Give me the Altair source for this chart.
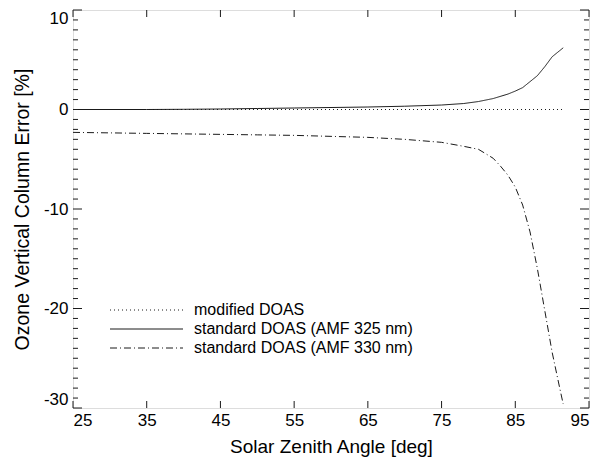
import altair as alt
import pandas as pd

# ---- data ----
series_names = ["modified DOAS", "standard DOAS (AMF 325 nm)", "standard DOAS (AMF 330 nm)"]

sza_mod = [25, 35, 45, 55, 65, 75, 85, 91.5]
err_mod = [0, 0, 0, 0, 0, 0, 0, 0]

sza_325 = [25, 30, 35, 40, 45, 50, 55, 60, 65, 70, 75, 78, 80, 82, 84, 85, 86, 87, 88, 89, 90, 91, 91.5]
err_325 = [0.0, 0.0, 0.0, 0.02, 0.05, 0.1, 0.15, 0.2, 0.25, 0.33, 0.45, 0.6, 0.8, 1.1, 1.55, 1.85, 2.2, 2.8, 3.4, 4.3, 5.3, 5.9, 6.2]

sza_330 = [25, 30, 35, 40, 45, 50, 55, 60, 65, 70, 75, 78, 80, 82, 83, 84, 85, 86, 87, 88, 89, 90, 91, 91.5]
err_330 = [-2.3, -2.35, -2.4, -2.45, -2.5, -2.55, -2.6, -2.7, -2.8, -3.0, -3.3, -3.7, -4.0, -4.9, -5.7, -6.6, -7.8, -9.6, -12.3, -16.0, -20.2, -24.4, -27.9, -29.6]

x_major = [25, 35, 45, 55, 65, 75, 85, 95]
y_major = [-30, -20, -10, 0, 10]
y_minor = [v for v in range(-30, 11) if v not in y_major]

W, H = 516, 398
FONT = "Liberation Sans"
INK = "#1a1a1a"

rows = []
for name, xs, ys in [(series_names[0], sza_mod, err_mod),
                     (series_names[1], sza_325, err_325),
                     (series_names[2], sza_330, err_330)]:
    for xv, yv in zip(xs, ys):
        rows.append({"series": name, "sza": xv, "err": yv})
df = pd.DataFrame(rows)

dash_range = [[1, 3], [1, 0], [7, 3, 1, 3]]

xscale = alt.Scale(domain=[25, 95], nice=False, zero=False)
yscale = alt.Scale(domain=[-30, 10], nice=False, zero=False)

lines = alt.Chart(df).mark_line(color=INK, strokeWidth=1).encode(
    x=alt.X("sza:Q", scale=xscale,
            axis=alt.Axis(title="Solar Zenith Angle [deg]", values=x_major,
                          labelExpr="'' + datum.value",
                          domain=False, ticks=False, grid=False, labelFontSize=17,
                          labelFont=FONT, labelColor="black", labelPadding=4,
                          titleFont=FONT, titleFontSize=19, titleFontWeight="normal",
                          titleColor="black", titlePadding=9)),
    y=alt.Y("err:Q", scale=yscale,
            axis=alt.Axis(title="Ozone Vertical Column Error [%]", values=y_major,
                          labelExpr="'' + datum.value", labelFlush=True,
                          domain=False, ticks=False, grid=False, labelFontSize=17,
                          labelFont=FONT, labelColor="black", labelPadding=5,
                          titleFont=FONT, titleFontSize=19.5, titleFontWeight="normal",
                          titleColor="black", titlePadding=11)),
    strokeDash=alt.StrokeDash("series:N", scale=alt.Scale(domain=series_names, range=dash_range),
                              legend=None),
    detail="series:N",
)

xt = pd.DataFrame({"v": x_major})
ytm = pd.DataFrame({"v": y_major})
ytn = pd.DataFrame({"v": y_minor})

tick_style = dict(color=INK, strokeWidth=1)
xb = alt.Chart(xt).mark_rule(**tick_style).encode(
    x=alt.X("v:Q", scale=xscale), y=alt.value(H), y2=alt.value(H - 7))
xtop = alt.Chart(xt).mark_rule(**tick_style).encode(
    x=alt.X("v:Q", scale=xscale), y=alt.value(0), y2=alt.value(7))
yl = alt.Chart(ytm).mark_rule(**tick_style).encode(
    y=alt.Y("v:Q", scale=yscale), x=alt.value(0), x2=alt.value(9))
yr = alt.Chart(ytm).mark_rule(**tick_style).encode(
    y=alt.Y("v:Q", scale=yscale), x=alt.value(W), x2=alt.value(W - 9))
ylm = alt.Chart(ytn).mark_rule(**tick_style).encode(
    y=alt.Y("v:Q", scale=yscale), x=alt.value(0), x2=alt.value(5))
yrm = alt.Chart(ytn).mark_rule(**tick_style).encode(
    y=alt.Y("v:Q", scale=yscale), x=alt.value(W), x2=alt.value(W - 5))

# ---- legend (inside plot, lower left) ----
leg_y = [300, 319, 338]
legend_layers = []
for i, name in enumerate(series_names):
    ldf = pd.DataFrame({"series": [name]})
    legend_layers.append(
        alt.Chart(ldf).mark_rule(color=INK, strokeWidth=1, strokeDash=dash_range[i]).encode(
            x=alt.value(37), x2=alt.value(110), y=alt.value(leg_y[i])))
    legend_layers.append(
        alt.Chart(ldf).mark_text(align="left", baseline="middle", font=FONT, fontSize=16,
                                 color="black").encode(
            x=alt.value(121), y=alt.value(leg_y[i]), text="series:N"))

chart = alt.layer(lines, xb, xtop, yl, yr, ylm, yrm, *legend_layers).properties(
    width=W, height=H,
    autosize=alt.AutoSizeParams(type="none"),
    padding={"left": 65, "top": 2, "right": 1, "bottom": 50},
).configure_view(stroke=INK, strokeWidth=1).configure(background="white")

chart.save("out.html", embed_options={"renderer": "svg", "actions": False})
